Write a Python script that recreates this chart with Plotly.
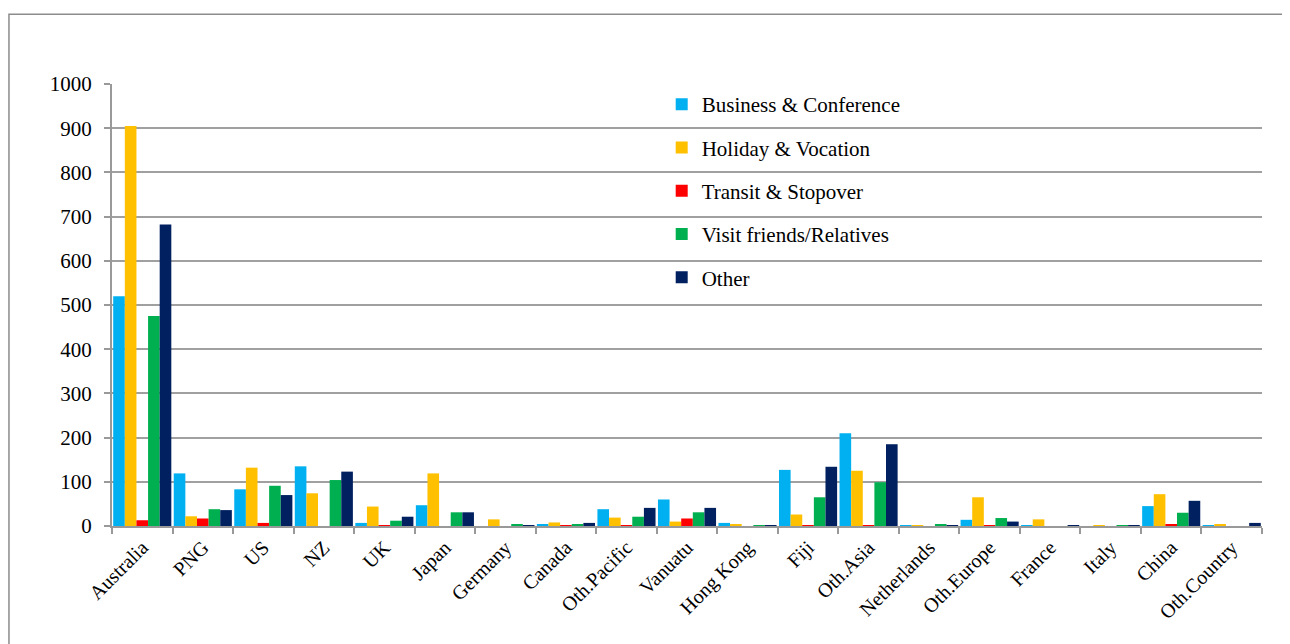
import plotly.graph_objects as go

countries = ["Australia", "PNG", "US", "NZ", "UK", "Japan", "Germany", "Canada",
             "Oth.Pacific", "Vanuatu", "Hong Kong", "Fiji", "Oth.Asia", "Netherlands",
             "Oth.Europe", "France", "Italy", "China", "Oth.Country"]

business = [520, 119, 83, 135, 7, 47, 0, 4, 38, 60, 7, 127, 210, 1, 14, 1, 0, 45, 1]
holiday  = [905, 22, 132, 74, 44, 119, 15, 8, 19, 10, 4, 26, 125, 1, 65, 15, 1, 72, 4]
transit  = [13, 17, 7, 0, 1, 0, 0, 1, 1, 17, 0, 1, 1, 0, 1, 0, 0, 3, 0]
visit    = [475, 38, 91, 104, 12, 31, 3, 4, 21, 31, 1, 65, 99, 4, 18, 0, 1, 30, 0]
other    = [682, 36, 70, 123, 21, 31, 1, 7, 41, 41, 1, 134, 185, 1, 10, 1, 1, 57, 7]

series_names = ["Business & Conference", "Holiday & Vocation", "Transit & Stopover",
                "Visit friends/Relatives", "Other"]
series_values = [business, holiday, transit, visit, other]
colors = ["#00B0F0", "#FFC000", "#FF0000", "#00B050", "#002060"]
y_ticks = [0, 100, 200, 300, 400, 500, 600, 700, 800, 900, 1000]

FONT = "Times New Roman, Liberation Serif, serif"

fig = go.Figure()
for name, vals, col in zip(series_names, series_values, colors):
    fig.add_trace(go.Bar(x=countries, y=vals, name=name, marker_color=col,
                         marker_line_width=0, legendgroup=name))

fig.update_layout(
    width=1282, height=636,
    margin=dict(l=104, r=28, t=76, b=118),
    paper_bgcolor="white", plot_bgcolor="white",
    barmode="group", bargap=0.04, bargroupgap=0,
    font=dict(family=FONT, size=20, color="black"),
    legend=dict(x=0.478, y=1.0, xanchor="left", yanchor="top",
                bgcolor="rgba(0,0,0,0)", font=dict(family=FONT, size=21, color="black"),
                tracegroupgap=13, traceorder="grouped"),
    showlegend=True,
)
fig.update_xaxes(
    type="category", tickangle=-45, showgrid=False,
    showline=True, linecolor="#999999", linewidth=2,
    ticks="outside", tickson="boundaries", ticklen=6, tickcolor="#999999", tickwidth=2,
    tickfont=dict(family=FONT, size=20, color="black"),
)
fig.update_yaxes(
    range=[0, 1000], tickvals=y_ticks, showgrid=True, gridcolor="#A0A0A0", gridwidth=2,
    showline=True, linecolor="#999999", linewidth=2,
    ticks="outside", ticklen=6, tickcolor="#999999", tickwidth=2,
    ticklabelstandoff=8,
    tickfont=dict(family=FONT, size=21, color="black"), zeroline=False,
)
fig.add_shape(type="rect", xref="paper", yref="paper",
              x0=-0.0896, x1=1.0217, y0=-0.3, y1=1.158,
              line=dict(color="#8C8C8C", width=1.5), fillcolor="rgba(0,0,0,0)", layer="below")

fig.write_html("out.html")
